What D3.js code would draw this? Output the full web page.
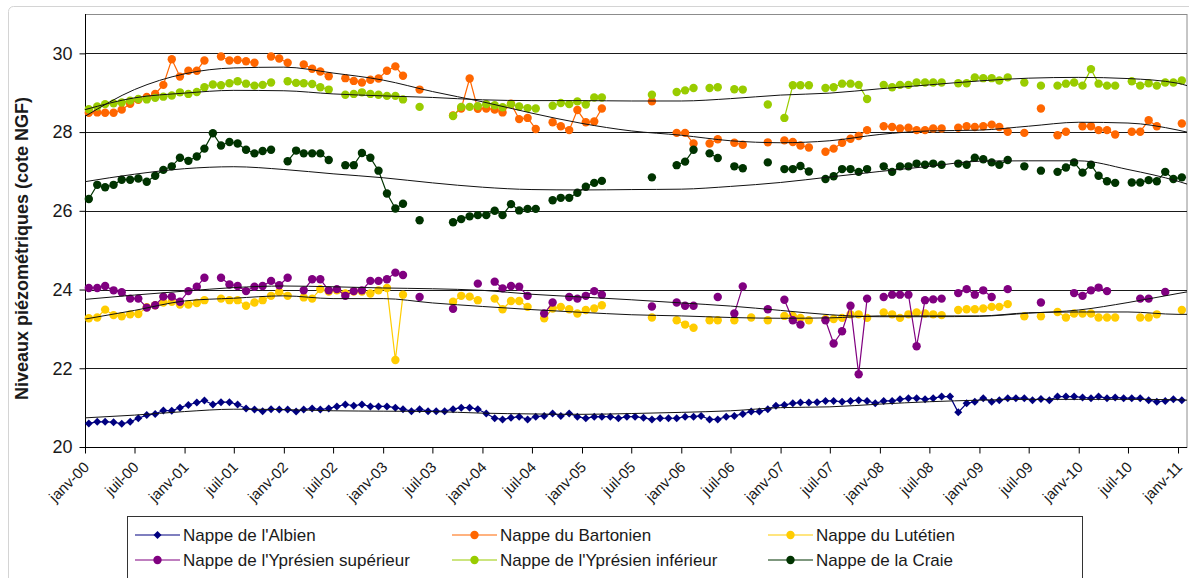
<!DOCTYPE html>
<html>
<head>
<meta charset="utf-8">
<script src="https://cdn.jsdelivr.net/npm/d3@7"></script>
<style>
  body { margin: 0; background: #fff; }
  svg { display: block; font-family: "Liberation Sans", Arial, sans-serif; }
</style>
</head>
<body>
<svg id="chart" width="1189" height="578"></svg>
<script>
// Monthly piezometric levels (m NGF), one value per month from janv-00; null = no reading
const N = null;

const albien = [20.60,20.64,20.64,20.63,20.59,20.64,20.73,20.81,20.84,20.93,
20.92,21.00,21.07,21.13,21.18,21.08,21.14,21.14,21.08,20.98,
20.95,20.91,20.96,20.95,20.95,20.90,20.95,20.98,20.95,20.98,
21.03,21.08,21.05,21.08,21.03,21.03,21.03,21.00,20.96,20.91,
20.96,20.91,20.91,20.91,20.96,21.00,21.00,20.96,20.85,20.73,
20.70,20.74,20.77,20.70,20.77,20.79,20.85,20.79,20.85,20.77,
20.73,20.77,20.77,20.77,20.73,20.77,20.77,20.74,20.70,20.73,
20.73,20.73,20.77,20.77,20.79,20.70,20.70,20.77,20.79,20.84,
20.90,20.90,20.96,21.05,21.07,21.11,21.13,21.13,21.14,21.17,
21.17,21.15,21.17,21.19,21.17,21.11,21.17,21.17,21.21,21.24,
21.24,21.21,21.24,21.28,21.28,20.88,21.11,21.15,21.24,21.15,
21.19,21.24,21.24,21.24,21.19,21.22,21.19,21.28,21.28,21.28,
21.26,21.24,21.28,21.24,21.26,21.24,21.24,21.24,21.19,21.15,
21.17,21.21,21.19];

const bartonien = [28.49,28.50,28.49,28.49,28.57,28.72,28.82,28.89,28.97,29.20,
29.85,29.41,29.56,29.56,29.82,N,29.92,29.82,29.83,29.80,
29.76,N,29.92,29.87,29.76,N,29.72,29.61,29.54,29.42,
N,29.37,29.30,29.26,29.33,29.36,29.56,29.67,29.43,N,
29.08,N,N,N,28.42,28.60,29.36,28.59,28.60,28.57,
28.50,28.72,28.33,28.36,28.08,N,28.25,28.15,28.05,28.56,
28.25,28.27,28.60,N,N,N,N,N,28.78,N,
N,27.98,27.98,27.71,N,27.71,27.82,N,27.73,27.68,
N,N,27.74,N,27.79,27.75,27.66,27.61,N,27.50,
27.58,27.73,27.83,27.90,28.05,N,28.15,28.13,28.09,28.11,
28.05,28.05,28.09,28.09,N,28.11,28.15,28.13,28.15,28.19,
28.13,28.01,N,27.98,N,28.60,N,27.92,28.01,N,
28.15,28.15,28.05,28.05,27.94,N,28.01,28.01,28.30,28.15,
N,N,28.22];

const lutetien = [23.27,23.29,23.49,23.35,23.32,23.37,23.38,23.55,23.60,23.67,
23.69,23.62,23.62,23.66,23.73,N,23.77,23.73,23.73,23.59,
23.67,23.73,23.84,23.94,23.84,N,23.80,23.77,24.01,23.95,
23.98,23.90,23.95,23.95,23.90,23.98,24.04,22.21,23.87,N,
N,N,N,N,23.69,23.84,23.82,23.73,N,23.77,
23.50,23.71,23.71,23.56,N,23.27,23.52,23.56,23.50,23.39,
23.48,23.52,23.60,N,N,N,N,N,23.29,N,
N,23.22,23.11,23.03,N,23.22,23.22,N,23.22,N,
23.29,N,23.22,N,23.33,23.33,23.28,23.22,N,23.25,
23.25,23.28,23.37,23.37,23.28,N,23.42,23.37,23.28,23.37,
23.42,23.39,23.37,23.35,N,23.48,23.50,23.50,23.52,23.56,
23.56,23.63,N,23.32,N,23.32,N,23.43,23.29,23.39,
23.39,23.39,23.29,23.29,23.29,N,N,23.29,23.29,23.37,
N,N,23.48];

const ypresienSup = [24.04,24.04,24.09,23.98,23.93,23.77,23.77,23.54,23.60,23.82,
23.82,23.69,23.96,24.07,24.30,N,24.30,24.13,24.09,23.96,
24.07,24.09,24.22,24.11,24.30,N,23.98,24.26,24.26,23.98,
24.01,23.84,23.96,23.98,24.22,24.22,24.26,24.43,24.37,N,
23.81,N,N,N,23.51,N,N,24.15,N,24.20,
24.03,24.09,24.07,23.84,N,23.39,23.67,N,23.81,23.77,
23.84,23.96,23.87,N,N,N,N,N,23.57,N,
N,23.67,23.59,23.59,N,N,23.81,N,23.39,24.08,
N,N,23.50,N,23.74,23.22,23.11,N,N,23.22,
22.63,22.94,23.59,21.85,23.77,N,23.81,23.87,23.87,23.87,
22.56,23.73,23.75,23.77,N,23.91,24.01,23.87,23.98,23.81,
N,24.01,N,N,N,23.67,N,N,N,23.91,
23.84,23.98,24.05,23.96,N,N,N,23.77,23.77,N,
23.94,N,N];

const ypresienInf = [28.58,28.65,28.71,28.73,28.75,28.80,28.84,28.83,28.87,28.90,
28.93,29.01,28.97,29.02,29.14,29.21,29.19,29.24,29.29,29.23,
29.18,29.20,29.26,N,29.29,29.25,29.24,29.22,29.14,29.08,
N,28.95,28.97,29.01,28.97,28.95,28.92,28.92,28.83,N,
28.64,N,N,N,28.41,28.64,28.64,28.66,28.71,28.68,
28.63,28.71,28.65,28.61,28.60,N,28.67,28.74,28.71,28.78,
28.70,28.88,28.88,N,N,N,N,N,28.95,N,
N,29.02,29.06,29.12,N,29.12,29.14,N,29.09,29.08,
N,N,28.70,N,28.36,29.19,29.19,29.19,N,29.12,
29.14,29.23,29.23,29.20,28.84,N,29.20,29.14,29.20,29.20,
29.26,29.26,29.26,29.26,N,29.24,29.24,29.39,29.37,29.37,
29.31,29.39,N,29.26,N,29.18,N,29.18,29.23,29.26,
29.18,29.60,29.23,29.18,29.18,N,29.29,29.18,29.24,29.18,
29.26,29.26,29.31];

const craie = [26.30,26.66,26.60,26.66,26.79,26.79,26.82,26.74,26.89,27.04,
27.13,27.35,27.27,27.38,27.58,27.97,27.66,27.75,27.71,27.55,
27.46,27.52,27.55,N,27.26,27.53,27.46,27.46,27.46,27.29,
N,27.16,27.16,27.47,27.35,27.02,26.44,26.06,26.18,N,
25.76,N,N,N,25.71,25.79,25.86,25.89,25.89,26.00,
25.89,26.17,26.01,26.05,26.05,N,26.27,26.33,26.33,26.46,
26.61,26.71,26.76,N,N,N,N,N,26.85,N,
N,27.16,27.25,27.55,N,27.46,27.34,N,27.13,27.08,
N,N,27.23,N,27.06,27.06,27.14,27.00,N,26.81,
26.88,27.06,27.06,26.99,27.06,N,27.13,26.99,27.13,27.13,
27.20,27.17,27.20,27.17,N,27.20,27.17,27.35,27.31,27.23,
27.17,27.29,N,27.13,N,27.02,N,26.99,27.10,27.23,
26.97,27.17,26.89,26.75,26.71,N,26.72,26.72,26.78,26.75,
26.99,26.81,26.85];

// Smoothed tendency of each aquifer, one value every six months from janv-00 to janv-11, then février 2011
const albienTrend      = [20.74,20.81,20.90,20.96,20.95,20.92,20.91,20.90,20.86,20.84,20.83,20.85,20.88,20.92,21.00,21.02,21.09,21.15,21.19,21.21,21.21,21.21,21.20,21.19];
const bartonienTrend   = [28.40,29.08,29.48,29.63,29.65,29.50,29.32,29.03,28.77,28.48,28.22,28.03,27.92,27.78,27.73,27.78,27.94,28.03,28.05,28.15,28.25,28.23,28.05,28.00];
const lutetienTrend    = [23.25,23.47,23.71,23.78,23.84,23.77,23.77,23.66,23.57,23.49,23.42,23.36,23.33,23.29,23.27,23.28,23.33,23.33,23.33,23.41,23.43,23.43,23.37,23.37];
const ypresienSupTrend = [23.75,23.86,23.96,24.05,24.09,24.07,24.04,24.02,23.98,23.88,23.81,23.74,23.66,23.58,23.47,23.36,23.31,23.31,23.32,23.40,23.48,23.67,23.90,23.94];
const ypresienInfTrend = [28.57,28.87,28.99,29.06,29.05,28.97,28.92,28.88,28.82,28.80,28.80,28.79,28.79,28.85,28.94,28.99,29.10,29.20,29.30,29.37,29.39,29.36,29.24,29.18];
const craieTrend       = [26.74,26.93,27.07,27.12,27.05,26.94,26.84,26.71,26.60,26.54,26.53,26.54,26.55,26.62,26.72,26.86,27.00,27.13,27.26,27.27,27.27,27.05,26.75,26.68];

const tickLabels = ["janv-00","juil-00","janv-01","juil-01","janv-02","juil-02","janv-03","juil-03",
  "janv-04","juil-04","janv-05","juil-05","janv-06","juil-06","janv-07","juil-07","janv-08","juil-08",
  "janv-09","juil-09","janv-10","juil-10","janv-11"];
const yTicks = [20, 22, 24, 26, 28, 30];

const series = [
  { name: "Nappe de l'Albien",              values: albien,      trend: albienTrend,      color: "#000080", marker: "diamond" },
  { name: "Nappe du Bartonien",             values: bartonien,   trend: bartonienTrend,   color: "#FF6600", marker: "circle" },
  { name: "Nappe du Lutétien",              values: lutetien,    trend: lutetienTrend,    color: "#FFCC00", marker: "circle" },
  { name: "Nappe de l'Yprésien supérieur",  values: ypresienSup, trend: ypresienSupTrend, color: "#800080", marker: "circle" },
  { name: "Nappe de l'Yprésien inférieur",  values: ypresienInf, trend: ypresienInfTrend, color: "#99CC00", marker: "circle" },
  { name: "Nappe de la Craie",              values: craie,       trend: craieTrend,       color: "#003300", marker: "circle" }
];

const svg = d3.select("#chart");
const plot = { left: 85, right: 1187, top: 14, bottom: 447 };

const t0 = new Date(2000, 0, 1);
const t1 = new Date(2011, 1, 3);
const x = d3.scaleTime().domain([t0, t1]).range([plot.left, plot.right]);
const y = d3.scaleLinear().domain([20, 31]).range([plot.bottom, plot.top]);

const monthDate = i => new Date(2000, i, 15);
const trendDate = k => k < 23 ? d3.timeMonth.offset(t0, 6 * k) : new Date(2011, 1, 3);

// chart frame
svg.append("rect").attr("x", 8.5).attr("y", 6.5).attr("width", 1190).attr("height", 590)
  .attr("rx", 5).attr("fill", "#fff").attr("stroke", "#d4d4d4").attr("stroke-width", 1);

// plot area border
svg.append("rect")
  .attr("x", plot.left + 0.5).attr("y", plot.top + 0.5)
  .attr("width", plot.right - plot.left - 0.5).attr("height", plot.bottom - plot.top)
  .attr("fill", "none").attr("stroke", "#8c8c8c").attr("stroke-width", 1);

// horizontal gridlines
svg.append("g").selectAll("line").data(yTicks.filter(v => v > 20)).join("line")
  .attr("x1", plot.left).attr("x2", plot.right)
  .attr("y1", d => Math.round(y(d)) + 0.5).attr("y2", d => Math.round(y(d)) + 0.5)
  .attr("stroke", "#1a1a1a").attr("stroke-width", 1);

// y axis
const yAxis = svg.append("g").attr("transform", `translate(${plot.left + 0.5},0)`)
  .call(d3.axisLeft(y).tickValues(yTicks).tickSize(6).tickPadding(7).tickFormat(d3.format("d")));
yAxis.select(".domain").attr("stroke", "#000").attr("d", `M0,${plot.top}V${plot.bottom + 0.5}`);
yAxis.selectAll(".tick line").attr("stroke", "#000");
yAxis.selectAll(".tick text").attr("font-size", 18).attr("fill", "#1a1a1a")
  .attr("font-family", "'Liberation Sans', Arial, sans-serif");

// x axis
const tickDates = tickLabels.map((d, i) => d3.timeMonth.offset(t0, 6 * i));
const xAxis = svg.append("g").attr("transform", `translate(0,${plot.bottom + 0.5})`)
  .call(d3.axisBottom(x).tickValues(tickDates).tickSize(6).tickFormat((d, i) => tickLabels[i]));
xAxis.select(".domain").attr("stroke", "#000").attr("d", `M${plot.left},0H${plot.right}`);
xAxis.selectAll(".tick line").attr("stroke", "#000");
xAxis.selectAll(".tick text")
  .attr("font-size", 15).attr("fill", "#1a1a1a")
  .attr("font-family", "'Liberation Sans', Arial, sans-serif")
  .attr("text-anchor", "end")
  .attr("transform", "translate(-3,13) rotate(-45)")
  .attr("x", 0).attr("y", 0).attr("dy", "0.72em");

// y title
svg.append("text")
  .attr("transform", `translate(28,${(plot.top + plot.bottom) / 2 + 18}) rotate(-90)`)
  .attr("text-anchor", "middle").attr("font-size", 18).attr("font-weight", "bold")
  .attr("fill", "#1a1a1a").text("Niveaux piézométriques (cote NGF)");

const diamond = r => `M0,${-r}L${r},0L0,${r}L${-r},0Z`;
const line = d3.line().defined(d => d.v !== null).x(d => x(d.t)).y(d => y(d.v));
const trendLine = d3.line().x(d => x(d.t)).y(d => y(d.v)).curve(d3.curveMonotoneX);

const gData = svg.append("g");
series.forEach(s => {
  const pts = s.values.map((v, i) => ({ t: monthDate(i), v }));
  const g = gData.append("g");
  g.append("path").datum(pts).attr("d", line)
    .attr("fill", "none").attr("stroke", s.color).attr("stroke-width", 1.2);
  const valid = pts.filter(d => d.v !== null);
  if (s.marker === "diamond") {
    g.selectAll("path.m").data(valid).join("path").attr("class", "m")
      .attr("transform", d => `translate(${x(d.t)},${y(d.v)})`)
      .attr("d", diamond(4)).attr("fill", s.color);
  } else {
    g.selectAll("circle").data(valid).join("circle")
      .attr("cx", d => x(d.t)).attr("cy", d => y(d.v)).attr("r", 4.2).attr("fill", s.color);
  }
});

// tendency curves
const gTrend = svg.append("g");
series.forEach(s => {
  const pts = s.trend.map((v, k) => ({ t: trendDate(k), v }));
  gTrend.append("path").datum(pts).attr("d", trendLine)
    .attr("fill", "none").attr("stroke", "#111").attr("stroke-width", 1);
});

// legend
const legend = svg.append("g");
legend.append("rect").attr("x", 127.5).attr("y", 516.5).attr("width", 955).attr("height", 62)
  .attr("fill", "#fff").attr("stroke", "#333").attr("stroke-width", 1);
const colX = [135, 452, 768];
const rowY = [535, 560];
series.forEach((s, i) => {
  const lx = colX[i % 3], ly = rowY[Math.floor(i / 3)];
  const g = legend.append("g").attr("transform", `translate(${lx},${ly})`);
  g.append("line").attr("x1", 0).attr("x2", 45).attr("y1", 0).attr("y2", 0)
    .attr("stroke", s.color).attr("stroke-width", 1.2);
  if (s.marker === "diamond") {
    g.append("path").attr("transform", "translate(22.5,0)").attr("d", diamond(4)).attr("fill", s.color);
  } else {
    g.append("circle").attr("cx", 22.5).attr("cy", 0).attr("r", 4.2).attr("fill", s.color);
  }
  g.append("text").attr("x", 48).attr("y", 0).attr("dy", "0.35em")
    .attr("font-size", 17).attr("fill", "#1a1a1a").text(s.name);
});
</script>
</body>
</html>
